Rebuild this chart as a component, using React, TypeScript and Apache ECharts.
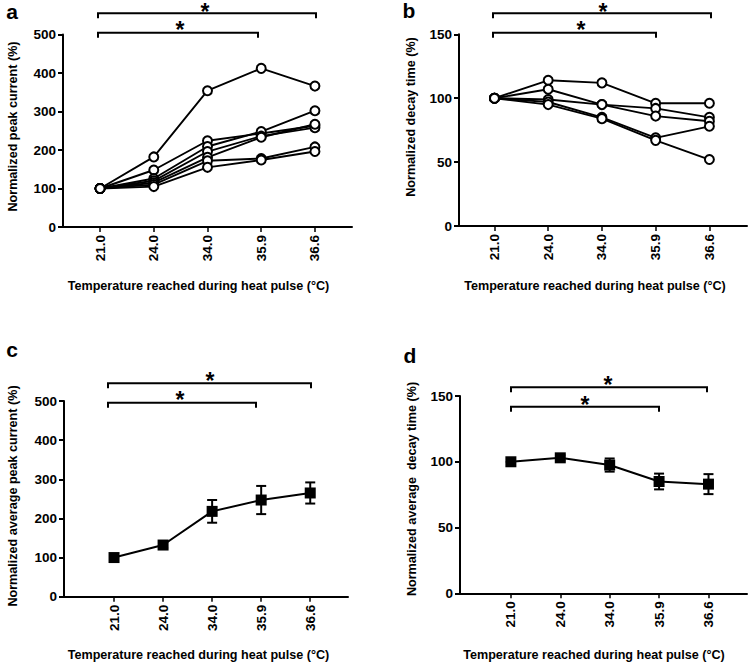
import React, { useEffect, useRef } from 'react';
import * as echarts from 'echarts';

const categories = ['21.0', '24.0', '34.0', '35.9', '36.6'];

// Panel a: normalized peak current per cell (%)
const peakCurrentCells = [
  [100, 182, 354, 412, 366],
  [100, 148, 224, 243, 263],
  [100, 126, 209, 248, 302],
  [100, 120, 196, 236, 258],
  [100, 115, 181, 233, 267],
  [100, 110, 172, 178, 208],
  [100, 105, 155, 174, 196],
];

// Panel b: normalized decay time per cell (%)
const decayTimeCells = [
  [100, 114, 112, 96, 96],
  [100, 107, 95, 92, 85],
  [100, 99, 95, 86, 82],
  [100, 97, 85, 69, 78],
  [100, 95, 84, 67, 52],
];

// Panel c: average peak current (mean, SEM)
const avgPeakMean = [100, 132, 218, 247, 265];
const avgPeakSem = [0, 7, 29, 36, 27];

// Panel d: average decay time (mean, SEM)
const avgDecayMean = [100, 103, 97.5, 85, 83];
const avgDecaySem = [0, 2, 5, 6, 7.6];

const peakTicks = [0, 100, 200, 300, 400, 500];
const decayTicks = [0, 50, 100, 150];

const FONT = '"Liberation Sans", Arial, Helvetica, sans-serif';

const xTitle = 'Temperature reached during heat pulse (°C)';

function makeXAxis(gridIndex: number, min: number, max: number) {
  const idx = categories.map((_, i) => i);
  return {
    type: 'value',
    gridIndex,
    min,
    max,
    splitLine: { show: false },
    axisLine: { show: true, onZero: false, lineStyle: { color: '#000', width: 2 } },
    axisTick: { show: true, customValues: idx, length: 5, lineStyle: { color: '#000', width: 1.5 } },
    axisLabel: {
      customValues: idx,
      rotate: 90,
      margin: 8,
      color: '#000',
      fontWeight: 'bold',
      fontSize: 13.5,
      fontFamily: FONT,
      formatter: (v: number) => categories[Math.round(v)] ?? '',
    },
  };
}

function makeYAxis(gridIndex: number, ticks: number[]) {
  return {
    type: 'value',
    gridIndex,
    min: ticks[0],
    max: ticks[ticks.length - 1],
    interval: ticks[1] - ticks[0],
    splitLine: { show: false },
    axisLine: { show: true, onZero: false, lineStyle: { color: '#000', width: 2 } },
    axisTick: { show: true, length: 5, lineStyle: { color: '#000', width: 2 } },
    axisLabel: {
      margin: 7,
      color: '#000',
      fontWeight: 'bold',
      fontSize: 13.5,
      fontFamily: FONT,
    },
  };
}

function cellSeries(values: number[][], axisIndex: number) {
  return values.map((row) => ({
    type: 'line',
    xAxisIndex: axisIndex,
    yAxisIndex: axisIndex,
    data: row.map((v, i) => [i, v]),
    symbol: 'emptyCircle',
    symbolSize: 9,
    lineStyle: { color: '#000', width: 1.9 },
    itemStyle: { color: '#000', borderColor: '#000', borderWidth: 1.9 },
  }));
}

function meanSeries(mean: number[], sem: number[], axisIndex: number) {
  return [
    {
      type: 'custom',
      xAxisIndex: axisIndex,
      yAxisIndex: axisIndex,
      data: mean.map((m, i) => [i, m - sem[i], m + sem[i]]),
      z: 1,
      renderItem: (_params: any, api: any) => {
        const x = api.value(0);
        const lo = api.coord([x, api.value(1)]);
        const hi = api.coord([x, api.value(2)]);
        const w = 5;
        const st = { stroke: '#000', lineWidth: 2 };
        return {
          type: 'group',
          children: [
            { type: 'line', shape: { x1: lo[0], y1: lo[1], x2: hi[0], y2: hi[1] }, style: st },
            { type: 'line', shape: { x1: lo[0] - w, y1: lo[1], x2: lo[0] + w, y2: lo[1] }, style: st },
            { type: 'line', shape: { x1: hi[0] - w, y1: hi[1], x2: hi[0] + w, y2: hi[1] }, style: st },
          ],
        };
      },
    },
    {
      type: 'line',
      xAxisIndex: axisIndex,
      yAxisIndex: axisIndex,
      data: mean.map((v, i) => [i, v]),
      z: 2,
      symbol: 'rect',
      symbolSize: 11,
      lineStyle: { color: '#000', width: 2 },
      itemStyle: { color: '#000', borderWidth: 0 },
    },
  ];
}

function sigBar(x1: number, x2: number, y: number) {
  return {
    type: 'polyline',
    shape: { points: [[x1, y + 5], [x1, y], [x2, y], [x2, y + 5]] },
    style: { stroke: '#000', lineWidth: 2, fill: null },
  };
}

function star(x: number, y: number) {
  return {
    type: 'text',
    x,
    y,
    style: {
      text: '*',
      font: `bold 23px ${FONT}`,
      fill: '#000',
      align: 'center',
      verticalAlign: 'middle',
    },
  };
}

function label(text: string, x: number, y: number, size: number, rotation = 0) {
  return {
    type: 'text',
    x,
    y,
    rotation,
    style: {
      text,
      font: `bold ${size}px ${FONT}`,
      fill: '#000',
      align: 'center',
      verticalAlign: 'middle',
    },
  };
}

export default function App() {
  const ref = useRef<HTMLDivElement>(null);

  useEffect(() => {
    document.body.style.margin = '0';
    if (!ref.current) return;
    const chart = echarts.init(ref.current, undefined, { renderer: 'svg' });
    const option: any = {
      animation: false,
      backgroundColor: '#fff',
      grid: [
        { left: 63, top: 34.5, width: 289, height: 192.5 },
        { left: 459, top: 34.3, width: 288, height: 191.7 },
        { left: 64, top: 401, width: 284, height: 195.7 },
        { left: 460, top: 396, width: 287, height: 197.3 },
      ],
      xAxis: [
        makeXAxis(0, -0.69, 4.69),
        makeXAxis(1, -0.66, 4.7),
        makeXAxis(2, -1.02, 4.77),
        makeXAxis(3, -1.03, 4.78),
      ],
      yAxis: [
        makeYAxis(0, peakTicks),
        makeYAxis(1, decayTicks),
        makeYAxis(2, peakTicks),
        makeYAxis(3, decayTicks),
      ],
      series: [
        ...cellSeries(peakCurrentCells, 0),
        ...cellSeries(decayTimeCells, 1),
        ...meanSeries(avgPeakMean, avgPeakSem, 2),
        ...meanSeries(avgDecayMean, avgDecaySem, 3),
      ],
      graphic: [
        // panel letters
        label('a', 12, 11, 21),
        label('b', 409, 10, 21),
        label('c', 12, 349, 21),
        label('d', 410, 355, 21),
        // x axis titles
        label(xTitle, 198.5, 286, 12.6),
        label(xTitle, 595, 286, 12.6),
        label(xTitle, 198.5, 655, 12.6),
        label(xTitle, 594, 655, 12.6),
        // y axis titles
        label('Normalized peak current (%)', 13, 126.5, 12.6, Math.PI / 2),
        label('Normalized decay time (%)', 411, 117, 12.6, Math.PI / 2),
        label('Normalized average peak current (%)', 13, 496, 12.6, Math.PI / 2),
        label('Normalized average  decay time (%)', 412, 489, 12.6, Math.PI / 2),
        // significance bars
        sigBar(98, 316, 13.3),
        sigBar(98, 258, 32.7),
        sigBar(493, 711, 13.3),
        sigBar(493, 656, 32.7),
        sigBar(108, 311, 383.3),
        sigBar(108, 256, 402.7),
        sigBar(511, 707, 387.3),
        sigBar(511, 659, 406.7),
        star(205, 11.5),
        star(180, 29.5),
        star(603, 11.5),
        star(581, 29.5),
        star(210, 381),
        star(180, 399.5),
        star(608, 385),
        star(585, 404.5),
      ],
    };
    chart.setOption(option);
    return () => chart.dispose();
  }, []);

  return <div ref={ref} style={{ width: 748, height: 663 }} />;
}
